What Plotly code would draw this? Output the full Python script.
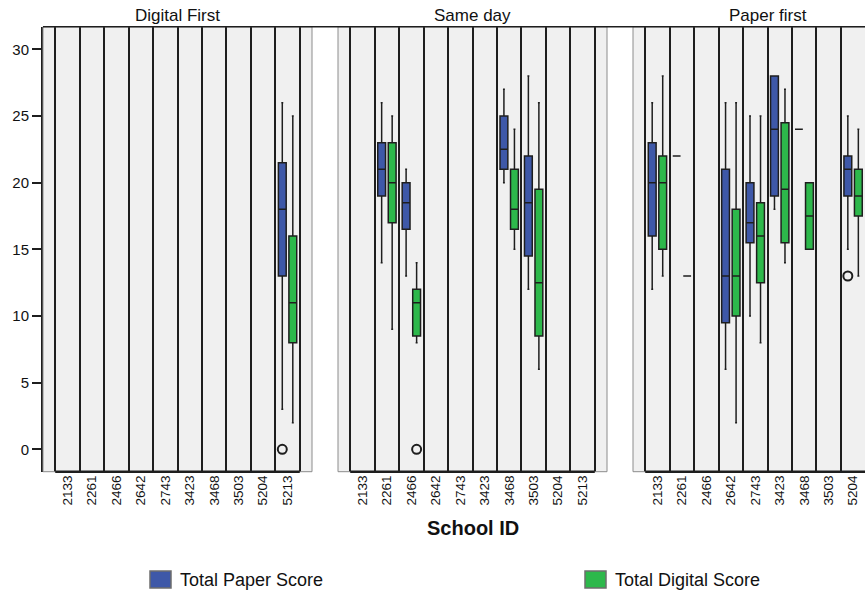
import plotly.graph_objects as go

# ---------------------------------------------------------------- data
school_ids = ["2133", "2261", "2466", "2642", "2743", "3423", "3468", "3503", "5204", "5213"]
panel_titles = ["Digital First", "Same day", "Paper first"]
series_names = ["Total Paper Score", "Total Digital Score"]

# Digital First
df_paper_ids = ["5213"]
df_paper_low = [3]
df_paper_q1 = [13]
df_paper_med = [18]
df_paper_q3 = [21.5]
df_paper_high = [26]
df_paper_out_ids = ["5213"]
df_paper_out_vals = [0]

df_digital_ids = ["5213"]
df_digital_low = [2]
df_digital_q1 = [8]
df_digital_med = [11]
df_digital_q3 = [16]
df_digital_high = [25]
df_digital_out_ids = []
df_digital_out_vals = []

# Same day
sd_paper_ids = ["2261", "2466", "3468", "3503"]
sd_paper_low = [14, 13, 20, 12]
sd_paper_q1 = [19, 16.5, 21, 14.5]
sd_paper_med = [21, 18.5, 22.5, 18.5]
sd_paper_q3 = [23, 20, 25, 22]
sd_paper_high = [26, 21, 27, 28]
sd_paper_out_ids = []
sd_paper_out_vals = []

sd_digital_ids = ["2261", "2466", "3468", "3503"]
sd_digital_low = [9, 8, 15, 6]
sd_digital_q1 = [17, 8.5, 16.5, 8.5]
sd_digital_med = [20, 11, 18, 12.5]
sd_digital_q3 = [23, 12, 21, 19.5]
sd_digital_high = [25, 14, 24, 26]
sd_digital_out_ids = ["2466"]
sd_digital_out_vals = [0]

# Paper first
pf_paper_ids = ["2133", "2261", "2642", "2743", "3423", "3468", "5204"]
pf_paper_low = [12, 22, 6, 10, 18, 24, 15]
pf_paper_q1 = [16, 22, 9.5, 15.5, 19, 24, 19]
pf_paper_med = [20, 22, 13, 17, 24, 24, 21]
pf_paper_q3 = [23, 22, 21, 20, 28, 24, 22]
pf_paper_high = [26, 22, 26, 25, 28, 24, 25]
pf_paper_out_ids = ["5204"]
pf_paper_out_vals = [13]

pf_digital_ids = ["2133", "2261", "2642", "2743", "3423", "3468", "5204"]
pf_digital_low = [13, 13, 2, 8, 14, 15, 13]
pf_digital_q1 = [15, 13, 10, 12.5, 15.5, 15, 17.5]
pf_digital_med = [20, 13, 13, 16, 19.5, 17.5, 19]
pf_digital_q3 = [22, 13, 18, 18.5, 24.5, 20, 21]
pf_digital_high = [28, 13, 26, 25, 27, 20, 24]
pf_digital_out_ids = []
pf_digital_out_vals = []

y_tick_vals = [0, 5, 10, 15, 20, 25, 30]

# ---------------------------------------------------------------- styling
W, H = 865, 594
FONT = "Liberation Sans, Arial, sans-serif"
BLUE = "#3E58A8"
GREEN = "#2DB84B"
PANEL_BG = "#F0F0F0"
DARK = "#1E1E1E"
FRAME_GREY = "#8C8C8C"
BOX_WIDTH = 0.32
SERIES_OFFSET = [-0.215, 0.215]
SERIES_COLORS = [BLUE, GREEN]

# panel pixel extents (left, right) and shared vertical extent
panel_px = [(43, 312), (338, 607), (633, 902)]
top_px, bottom_px = 26.7, 471.7
n_cat = len(school_ids)
cat_px = (panel_px[0][1] - panel_px[0][0]) / (n_cat + 1)
y_range = [-1.68, 31.7]


def px_x(x):
    return x / W


def px_y(y):
    return 1 - y / H


panels = [
    [
        (df_paper_ids, df_paper_low, df_paper_q1, df_paper_med, df_paper_q3, df_paper_high,
         df_paper_out_ids, df_paper_out_vals),
        (df_digital_ids, df_digital_low, df_digital_q1, df_digital_med, df_digital_q3, df_digital_high,
         df_digital_out_ids, df_digital_out_vals),
    ],
    [
        (sd_paper_ids, sd_paper_low, sd_paper_q1, sd_paper_med, sd_paper_q3, sd_paper_high,
         sd_paper_out_ids, sd_paper_out_vals),
        (sd_digital_ids, sd_digital_low, sd_digital_q1, sd_digital_med, sd_digital_q3, sd_digital_high,
         sd_digital_out_ids, sd_digital_out_vals),
    ],
    [
        (pf_paper_ids, pf_paper_low, pf_paper_q1, pf_paper_med, pf_paper_q3, pf_paper_high,
         pf_paper_out_ids, pf_paper_out_vals),
        (pf_digital_ids, pf_digital_low, pf_digital_q1, pf_digital_med, pf_digital_q3, pf_digital_high,
         pf_digital_out_ids, pf_digital_out_vals),
    ],
]

fig = go.Figure()

for p, panel in enumerate(panels):
    xa = "x" if p == 0 else f"x{p + 1}"
    ya = "y" if p == 0 else f"y{p + 1}"
    for s, (ids, low, q1, med, q3, high, out_ids, out_vals) in enumerate(panel):
        pos = [school_ids.index(i) + SERIES_OFFSET[s] for i in ids]
        fig.add_trace(go.Box(
            x=pos, q1=q1, median=med, q3=q3, lowerfence=low, upperfence=high,
            width=BOX_WIDTH, whiskerwidth=0.25, boxpoints=False,
            fillcolor=SERIES_COLORS[s], line=dict(color=DARK, width=1.5),
            name=series_names[s], showlegend=False, xaxis=xa, yaxis=ya,
        ))
        if out_ids:
            fig.add_trace(go.Scatter(
                x=[school_ids.index(i) + SERIES_OFFSET[s] for i in out_ids], y=out_vals,
                mode="markers",
                marker=dict(symbol="circle-open", size=9, color=DARK, line=dict(width=2, color=DARK)),
                showlegend=False, xaxis=xa, yaxis=ya, hoverinfo="y",
            ))

boundaries = [i - 0.5 for i in range(n_cat + 1)]
layout = dict(
    width=W, height=H, margin=dict(l=0, r=0, t=0, b=0),
    paper_bgcolor="white", plot_bgcolor=PANEL_BG,
    boxmode="overlay", showlegend=False,
    font=dict(family=FONT, color="black"),
)

for p, (l_px, r_px) in enumerate(panel_px):
    key = "" if p == 0 else str(p + 1)
    right_edge = min(r_px, W)
    x_hi = -1 + (right_edge - l_px) / cat_px
    layout["xaxis" + key] = dict(
        domain=[px_x(l_px), px_x(right_edge)], range=[-1, x_hi],
        anchor="y" + key, showgrid=False, zeroline=False, showline=False,
        tickmode="array", tickvals=list(range(n_cat)), ticktext=school_ids,
        tickangle=-90, ticks="", tickfont=dict(size=13.5, family=FONT, color="#111"),
        minor=dict(tickmode="array", tickvals=boundaries, showgrid=True,
                   gridcolor=DARK, gridwidth=2, ticks=""),
        fixedrange=True,
    )
    ydict = dict(
        domain=[px_y(bottom_px), px_y(top_px)], range=y_range,
        anchor="x" + key, showgrid=False, zeroline=False, fixedrange=True,
    )
    if p == 0:
        ydict.update(
            tickmode="array", tickvals=y_tick_vals, ticks="outside", ticklen=9,
            tickwidth=2, tickcolor=DARK, showline=True, linecolor=DARK, linewidth=2,
            tickfont=dict(size=15, family=FONT, color="#111"),
        )
    else:
        ydict.update(matches="y", showticklabels=False, showline=False)
    layout["yaxis" + key] = ydict

fig.update_layout(**layout)

shapes = []
annotations = []
for p, (l_px, r_px) in enumerate(panel_px):
    key = "" if p == 0 else str(p + 1)
    # grey frame around each panel
    shapes.append(dict(type="rect", xref="paper", yref="paper",
                       x0=px_x(l_px), x1=px_x(r_px), y0=px_y(bottom_px), y1=px_y(top_px),
                       line=dict(color=FRAME_GREY, width=1), layer="above"))
    # dark baseline spanning the category bands
    shapes.append(dict(type="line", xref="x" + key, yref="y" + key + " domain",
                       x0=boundaries[0], x1=boundaries[-1], y0=0, y1=0,
                       line=dict(color=DARK, width=2.5), layer="above"))
    annotations.append(dict(text=panel_titles[p], xref="paper", yref="paper",
                            x=px_x((l_px + r_px) / 2), y=px_y(15), xanchor="center", yanchor="middle",
                            showarrow=False, font=dict(size=17, family=FONT, color="#111")))

# header rule above the panels
shapes.append(dict(type="line", xref="paper", yref="paper",
                   x0=px_x(panel_px[0][0]), x1=1, y0=px_y(top_px), y1=px_y(top_px),
                   line=dict(color=DARK, width=1.5), layer="above"))

annotations.append(dict(text="<b>School ID</b>", xref="paper", yref="paper",
                        x=px_x(473), y=px_y(528), xanchor="center", yanchor="middle",
                        showarrow=False, font=dict(size=20, family=FONT, color="#111")))

# legend swatches and labels
legend_px = [(150, 171), (585, 606)]
for s, (x0, x1) in enumerate(legend_px):
    shapes.append(dict(type="rect", xref="paper", yref="paper",
                       x0=px_x(x0), x1=px_x(x1), y0=px_y(588), y1=px_y(571),
                       fillcolor=SERIES_COLORS[s], line=dict(color="#6E6E6E", width=1.5)))
    annotations.append(dict(text=series_names[s], xref="paper", yref="paper",
                            x=px_x(x1 + 7), y=px_y(580), xanchor="left", yanchor="middle",
                            showarrow=False, font=dict(size=18, family=FONT, color="#111")))

fig.update_layout(shapes=shapes, annotations=annotations)
fig.write_html("out.html")
